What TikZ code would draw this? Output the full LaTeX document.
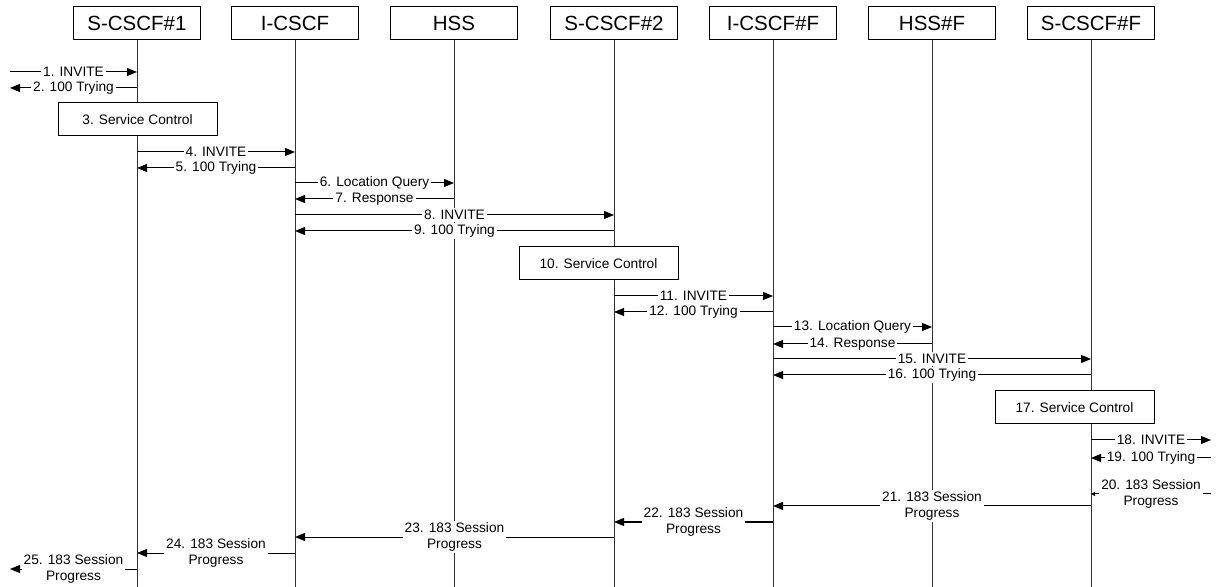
\documentclass[tikz,border=0pt]{standalone}
\usepackage{fontspec}
\setmainfont{Liberation Sans}
\usetikzlibrary{arrows.meta}

% message between two lifelines at height #1
\newcommand{\msg}[5][]{%
    \draw[msgline,#1] (#3 |- 0,#2) -- node[msglabel] {#5} (#4 |- 0,#2);}

\begin{document}
\begin{tikzpicture}[x=0.5pt, y=-0.5pt,
    entity/.style={draw, line width=0.5pt, minimum width=63.5pt, minimum height=16.5pt,
        inner sep=0pt, font=\fontsize{10.25}{12}\selectfont},
    ctrlbox/.style={draw, fill=white, line width=0.5pt, minimum width=79.5pt,
        minimum height=16.5pt, inner sep=0pt, font=\fontsize{6.85}{8}\selectfont},
    lifeline/.style={black!80, line width=0.5pt},
    msgline/.style={-{Triangle[length=5pt,width=4pt]}, line width=0.5pt},
    tinyhead/.style={-{Triangle[length=2pt,width=2pt]}},
    msglabel/.style={fill=white, inner sep=1pt, align=center,
        font=\fontsize{6.85}{8}\selectfont}]
    \useasboundingbox (0,0) rectangle (1221,587);

    % entities
    \node[entity] (s1)   at (137,23.5)  {S-CSCF\#1};
    \node[entity] (ic)   at (295,23.5)  {I-CSCF};
    \node[entity] (hss)  at (454,23.5)  {HSS};
    \node[entity] (s2)   at (614,23.5)  {S-CSCF\#2};
    \node[entity] (icf)  at (773,23.5)  {I-CSCF\#F};
    \node[entity] (hssf) at (932,23.5)  {HSS\#F};
    \node[entity] (sf)   at (1091,23.5) {S-CSCF\#F};

    % outside ends
    \coordinate (west) at (10,0);
    \coordinate (east) at (1211,0);

    % lifelines
    \draw[lifeline] (s1.south) -- (s1 |- 0,587);
    \draw[lifeline] (ic.south) -- (ic |- 0,587);
    \draw[lifeline] (hss.south) -- (hss |- 0,587);
    \draw[lifeline] (s2.south) -- (s2 |- 0,587);
    \draw[lifeline] (icf.south) -- (icf |- 0,587);
    \draw[lifeline] (hssf.south) -- (hssf |- 0,587);
    \draw[lifeline] (sf.south) -- (sf |- 0,587);

    % originating side
    \msg{72}{west}{s1}{1. INVITE}
    \msg{88}{s1}{west}{2. 100 Trying}
    \node[ctrlbox] (sc3) at (137.5,119.5) {3. Service Control};
    \msg{152}{s1}{ic}{4. INVITE}
    \msg{168}{ic}{s1}{5. 100 Trying}
    \msg{183}{ic}{hss}{6. Location Query}
    \msg{199}{hss}{ic}{7. Response}
    \msg{215}{ic}{s2}{8. INVITE}
    \msg{231}{s2}{ic}{9. 100 Trying}

    % S-CSCF#2
    \node[ctrlbox] (sc10) at (598.5,263.5) {10. Service Control};
    \msg{296}{s2}{icf}{11. INVITE}
    \msg{312}{icf}{s2}{12. 100 Trying}
    \msg{327}{icf}{hssf}{13. Location Query}
    \msg{344}{hssf}{icf}{14. Response}
    \msg{359}{icf}{sf}{15. INVITE}
    \msg{375}{sf}{icf}{16. 100 Trying}

    % terminating side
    \node[ctrlbox] (sc17) at (1074.5,407.5) {17. Service Control};
    \msg{440}{sf}{east}{18. INVITE}
    \msg{458}{east}{sf}{19. 100 Trying}
    \msg[tinyhead]{494}{east}{sf}{20. 183 Session\\Progress}

    % 183 back to the origin
    \msg{506}{sf}{icf}{21. 183 Session\\Progress}
    \msg{522}{icf}{s2}{22. 183 Session\\Progress}
    \msg{537}{s2}{ic}{23. 183 Session\\Progress}
    \msg{553}{ic}{s1}{24. 183 Session\\Progress}
    \msg{569}{s1}{west}{25. 183 Session\\Progress}

\end{tikzpicture}
\end{document}
